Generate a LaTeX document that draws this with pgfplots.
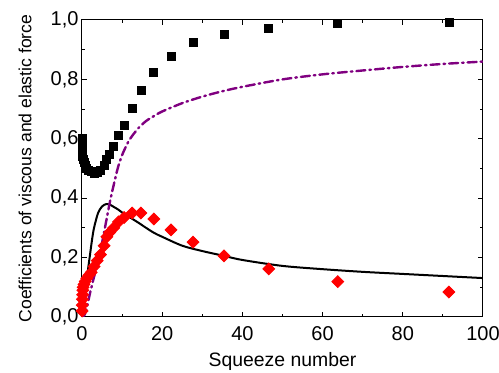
\documentclass[border=0pt]{standalone}
\usepackage{fontspec}
\setmainfont{Liberation Sans}
\usepackage{pgfplots}
\pgfplotsset{compat=1.18}
\definecolor{mypurple}{RGB}{128,0,128}
\begin{document}
\begin{tikzpicture}
\path[use as bounding box] (-41pt,-28pt) rectangle (208.5pt,158.5pt);
\begin{axis}[
  at={(0,0)}, anchor=south west,
  scale only axis, width=200.5pt, height=148.5pt,
  xmin=0, xmax=100, ymin=0, ymax=1,
  xtick={0,20,40,60,80,100}, minor x tick num=1,
  ytick={0,0.2,0.4,0.6,0.8,1.0}, minor y tick num=1,
  tick align=inside, tick pos=both,
  major tick length=2.5pt, minor tick length=1.5pt,
  axis line style={line width=0.5pt},
  every tick/.style={line width=0.5pt, black},
  /pgf/number format/assume math mode=true,
  yticklabel style={/pgf/number format/fixed, /pgf/number format/fixed zerofill, /pgf/number format/precision=1, /pgf/number format/use comma, xshift=1.8pt},
  ticklabel style={font=\fontsize{10}{12}\selectfont},
  xticklabel style={yshift=-1.2pt},
  xlabel={Squeeze number},
  ylabel={Coefficients of viscous and elastic force},
  xlabel style={font=\fontsize{9.7}{12}\selectfont, at={(axis description cs:0.5,-0.168)}, anchor=base},
  ylabel style={font=\fontsize{8.8}{11}\selectfont, at={(axis description cs:-0.142,0.5)}, anchor=center},
]
% black squares
\addplot[only marks, mark=square*, mark size=2pt, black] coordinates {
(0.02,0.60) (0.05,0.585) (0.1,0.57) (0.15,0.555) (0.2,0.54) (0.3,0.53) (0.5,0.52)
(0.8,0.51) (1.2,0.50) (1.7,0.495) (2.3,0.49) (3.0,0.485) (3.8,0.487) (4.6,0.495)
(5.5,0.51) (6.2,0.53) (6.9,0.549) (7.9,0.576) (9.1,0.61) (10.5,0.646) (12.5,0.704)
(14.7,0.764) (17.9,0.825) (22.2,0.879) (27.7,0.923) (35.4,0.953) (46.6,0.973)
(63.8,0.987) (91.5,0.993)
};
% red diamonds
\addplot[only marks, mark=square*, mark size=2.1pt, red, mark options={rotate=45}] coordinates {
(0.02,0.02) (0.05,0.04) (0.1,0.06) (0.15,0.075) (0.2,0.09) (0.3,0.10) (0.5,0.11)
(0.8,0.12) (1.2,0.13) (1.7,0.14) (2.3,0.15) (3.0,0.17) (3.8,0.19) (4.6,0.21)
(5.5,0.24) (6.2,0.27) (6.9,0.285) (7.9,0.30) (9.1,0.32) (10.5,0.335) (12.5,0.35)
(14.7,0.35) (17.9,0.33) (22.2,0.293) (27.7,0.252) (35.4,0.206) (46.6,0.162)
(63.8,0.119) (91.5,0.084)
};
% black solid curve
\addplot[black, line width=1pt, smooth] coordinates {
(0,0) (0.5,0.04) (1,0.10) (1.5,0.16) (2,0.21) (2.5,0.26) (3,0.30) (4,0.35) (5,0.372)
(6,0.38) (7,0.378) (8,0.37) (9,0.362) (10,0.352) (12,0.335) (14,0.318) (16,0.30)
(18,0.283) (20,0.27) (25,0.24) (30,0.222) (35,0.207) (40,0.192) (50,0.172)
(60,0.161) (70,0.152) (80,0.145) (90,0.138) (100,0.131)
};
% purple dash-dot curve
\addplot[mypurple, line width=1.2pt, smooth, line cap=round, dash pattern=on 4.5pt off 2pt on 0.8pt off 2pt] coordinates {
(0,0) (0.5,0.005) (1,0.02) (2,0.08) (3,0.135) (4,0.185) (5,0.25) (6,0.32) (7,0.39)
(8,0.45) (9,0.505) (10,0.545) (11,0.575) (12,0.60) (14,0.635) (16,0.66) (18,0.677)
(20,0.692) (25,0.72) (30,0.742) (35,0.76) (40,0.775) (50,0.80) (60,0.817)
(70,0.83) (80,0.842) (90,0.852) (100,0.86)
};
\end{axis}
\end{tikzpicture}
\end{document}
